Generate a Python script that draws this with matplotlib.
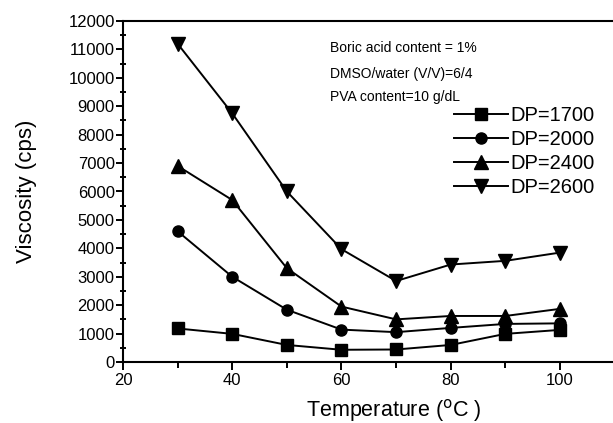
import matplotlib.pyplot as plt
from matplotlib.ticker import MultipleLocator

plt.rcParams["font.family"] = ["Liberation Sans", "DejaVu Sans"]

temperature = [30, 40, 50, 60, 70, 80, 90, 100]

dp_1700 = [1180, 990, 600, 430, 440, 600, 990, 1130]
dp_2000 = [4600, 3000, 1840, 1140, 1050, 1200, 1340, 1360]
dp_2400 = [6900, 5700, 3300, 1950, 1500, 1620, 1620, 1870]
dp_2600 = [11200, 8750, 6000, 3970, 2850, 3430, 3560, 3850]

series_labels = ["DP=1700", "DP=2000", "DP=2400", "DP=2600"]
notes = ["Boric acid content = 1%", "DMSO/water (V/V)=6/4", "PVA content=10 g/dL"]

W, H = 613, 423
fig = plt.figure(figsize=(W / 100, H / 100), dpi=100)
ax = fig.add_axes([123 / W, 61 / H, 491.6 / W, 341 / H])

styles = [("s", 8.6), ("o", 8.0), ("^", 9.5), ("v", 9.5)]
handles = []
for ys, (mk, ms), lab in zip([dp_1700, dp_2000, dp_2400, dp_2600], styles, series_labels):
    h, = ax.plot(temperature, ys, color="black", lw=1.4, marker=mk, ms=ms, label=lab)
    handles.append(h)

ax.set_xlim(20, 110)
ax.set_ylim(0, 12000)
ax.xaxis.set_major_locator(MultipleLocator(20))
ax.xaxis.set_minor_locator(MultipleLocator(10))
ax.yaxis.set_major_locator(MultipleLocator(1000))
ax.yaxis.set_minor_locator(MultipleLocator(500))

for s in ax.spines.values():
    s.set_linewidth(1.5)
ax.spines["right"].set_visible(False)

ax.tick_params(axis="x", which="major", direction="out", length=6, width=1.4, labelsize=12, pad=2)
ax.tick_params(axis="x", which="minor", direction="out", length=4, width=1.4)
ax.tick_params(axis="y", which="major", direction="out", length=5, width=1.4, labelsize=12, pad=1)
ax.tick_params(axis="y", which="minor", direction="inout", length=4, width=1.4)
for t in ax.get_yticklabels():
    t.set_family(["Liberation Sans Narrow", "Liberation Sans", "DejaVu Sans"])

ax.set_xlabel("Temperature ($^{\\rm o}$C )", fontsize=15.5)
ax.xaxis.set_label_coords((394 - 123) / 491.6, -(397 - 362) / 341)
ax.set_ylabel("Viscosity (cps)", fontsize=16)
ax.yaxis.set_label_coords(-(123 - 37) / 491.6, 0.5)

for txt, yy in zip(notes, [48, 74, 97]):
    fig.text(330 / W, 1 - yy / H, txt, fontsize=10, va="center", ha="left")

fig.legend(handles=handles, loc="upper left", bbox_to_anchor=(454 / W, 1 - 106 / H),
           frameon=False, fontsize=14.5, handlelength=2.7, handletextpad=0.1,
           labelspacing=0.25, borderpad=0, borderaxespad=0)

fig.savefig("out.png", dpi=100)
